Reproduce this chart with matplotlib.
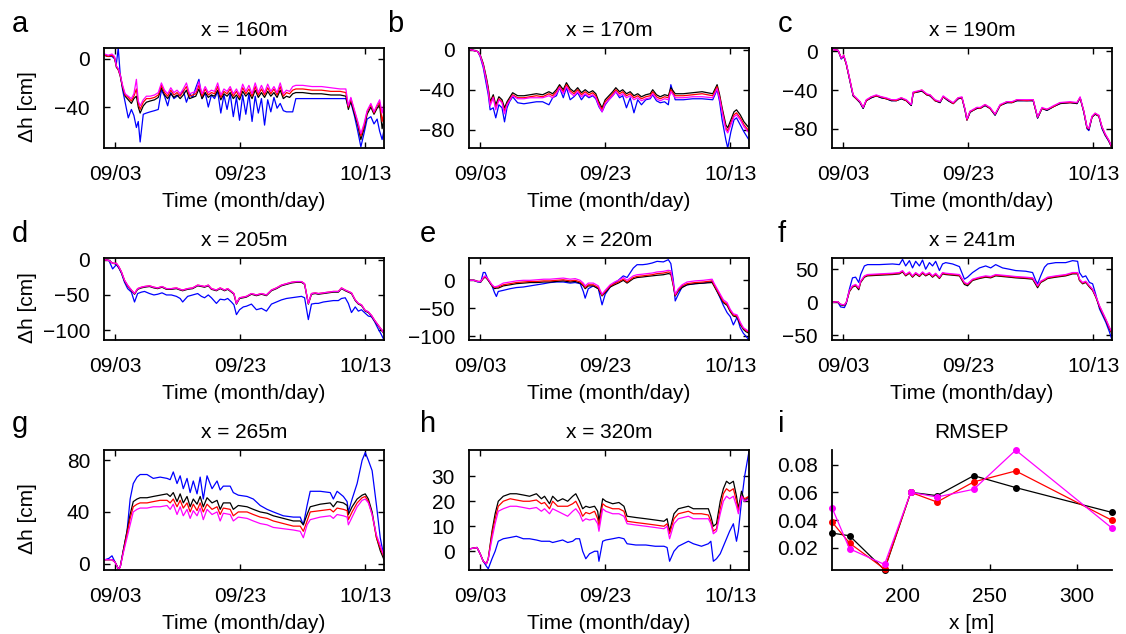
import matplotlib.pyplot as plt

plt.rcParams['font.family'] = ['Liberation Sans', 'DejaVu Sans']
plt.rcParams['font.size'] = 15

# time axis: days since 09/01
tick_days = [2, 22, 42]
tick_labels = ["09/03", "09/23", "10/13"]

# ---- x = 160 m ----
days_a = [0.3, 0.9, 1.5, 1.9, 2.2, 2.5, 2.8, 3.2, 3.6, 4.1, 4.6, 5.0, 5.4, 5.7, 6.0, 6.5, 7.0, 7.6, 8.3, 8.9, 9.4,
          9.9, 10.4, 10.9, 11.4, 11.9, 12.4, 12.9, 13.4, 13.9, 14.4, 14.9, 15.4, 15.9, 16.4, 16.9, 17.4, 17.9, 18.4,
          18.9, 19.4, 19.9, 20.4, 20.9, 21.4, 21.9, 22.4, 22.9, 23.4, 23.9, 24.4, 24.9, 25.4, 25.9, 26.4, 26.9, 27.4,
          27.9, 28.4, 28.9, 29.4, 29.9, 30.4, 30.9, 32.0, 33.5, 35.0, 36.5, 38.0,
          38.9, 39.3, 39.7, 40.3, 40.8, 41.3, 41.8, 42.3, 42.9, 43.4, 43.9, 44.3, 44.7, 45.0]
blk_a = [3, 2, 3, 1, -7, -9, -14, -24, -31, -34, -37, -33, -31, -40, -45, -39, -36, -35, -34, -32, -24,
         -30, -33, -29, -32, -30, -33, -30, -26, -33, -32, -31, -25, -33, -28, -32, -30, -31, -26, -34, -29,
         -31, -28, -33, -30, -34, -27, -31, -28, -33, -26, -32, -28, -32, -27, -31, -28, -32, -26, -33, -31,
         -32, -29, -28, -28, -29, -29, -30, -30,
         -31, -42, -35, -46, -55, -67, -58, -46, -40, -46, -41, -38, -58, -50]
red_a = [3, 2, 3, 1, -6, -9, -13, -23, -30, -32, -35, -31, -25, -37, -42, -36, -33, -33, -32, -30, -22,
         -28, -31, -26, -30, -28, -31, -27, -23, -31, -30, -29, -22, -31, -25, -30, -28, -29, -23, -32, -27,
         -29, -25, -31, -27, -32, -24, -29, -25, -31, -23, -30, -25, -30, -24, -29, -25, -30, -23, -31, -28,
         -29, -26, -25, -25, -26, -26, -27, -27,
         -28, -40, -33, -44, -53, -64, -56, -44, -38, -45, -39, -36, -52, -44]
mag_a = [4, 3, 4, 2, -6, -8, -13, -22, -29, -31, -33, -29, -17, -35, -39, -34, -31, -31, -30, -28, -20,
         -26, -29, -24, -28, -26, -29, -25, -20, -29, -28, -27, -19, -29, -23, -28, -26, -27, -20, -30, -25,
         -27, -23, -29, -25, -30, -21, -27, -22, -29, -20, -28, -22, -28, -21, -27, -23, -28, -20, -29, -26,
         -27, -23, -22, -22, -23, -23, -24, -25,
         -25, -39, -32, -43, -52, -62, -54, -43, -37, -44, -38, -34, -45, -37]
blu_a = [3, 2, 2, 0, -4, 9, -12, -26, -36, -49, -42, -47, -57, -52, -69, -46, -45, -44, -43, -42, -26,
         -31, -39, -28, -33, -31, -30, -26, -36, -29, -32, -24, -17, -33, -28, -40, -30, -33, -27, -45, -30,
         -42, -29, -48, -32, -51, -30, -46, -29, -52, -31, -45, -33, -55, -34, -44, -32, -41, -37, -43, -44,
         -44, -44, -33, -33, -33, -33, -33, -33,
         -33, -40, -36, -48, -60, -73, -62, -50, -48, -54, -50, -60, -67, -59]

# ---- x = 170 m ----
days_b = [0.3, 1.0, 1.6, 2.0, 2.5, 3.0, 3.3, 3.6, 4.1, 4.5, 5.0, 5.5, 5.9, 6.3, 6.7, 7.2, 8.0, 9.0, 10.0, 11.0,
          12.0, 13.0, 13.6, 14.2, 14.7, 15.3, 15.8, 16.4, 17.0, 17.6, 18.2, 18.8, 19.4, 20.0, 20.5, 21.0, 21.5,
          22.0, 22.6, 23.2, 23.7, 24.3, 24.8, 25.4, 26.0, 26.6, 27.2, 27.8, 28.5, 29.2, 29.6, 30.2, 30.8, 31.5,
          32.1, 32.5, 33.2, 34.5, 36.0, 37.5, 39.2, 39.9, 40.3, 40.7, 41.3, 41.6, 42.1, 42.6, 43.0, 43.6, 44.2, 45.0]
blk_b = [0, -1, -2, -5, -14, -28, -38, -52, -45, -55, -47, -50, -58, -52, -48, -43, -46, -46, -45, -44,
         -45, -42, -44, -40, -35, -40, -33, -39, -42, -38, -43, -40, -43, -41, -44, -52, -58, -50, -46, -42,
         -38, -42, -40, -44, -42, -46, -44, -47, -45, -44, -40, -45, -47, -45, -46, -38, -44, -44, -43, -42,
         -44, -35, -45, -58, -75, -78, -70, -62, -60, -65, -72, -78]
red_b = [0, -1, -2, -6, -15, -30, -40, -54, -47, -58, -49, -52, -61, -54, -50, -45, -48, -48, -47, -46,
         -47, -44, -46, -42, -37, -42, -35, -41, -44, -40, -45, -42, -45, -43, -46, -54, -60, -52, -48, -44,
         -40, -44, -42, -46, -44, -48, -46, -49, -47, -46, -42, -47, -49, -47, -48, -40, -46, -46, -45, -44,
         -46, -37, -47, -60, -78, -81, -73, -65, -63, -68, -75, -81]
mag_b = [0, -1, -2, -6, -16, -31, -42, -56, -48, -60, -50, -53, -64, -55, -51, -46, -49, -49, -48, -48,
         -48, -46, -48, -44, -38, -44, -37, -43, -46, -42, -47, -44, -47, -45, -48, -56, -62, -54, -50, -46,
         -42, -46, -44, -48, -46, -50, -48, -51, -49, -48, -44, -49, -51, -49, -50, -42, -48, -48, -47, -47,
         -48, -39, -49, -62, -80, -83, -75, -67, -65, -70, -77, -83]
blu_b = [0, -1, -2, -7, -18, -35, -45, -60, -58, -68, -55, -58, -72, -58, -52, -47, -53, -54, -53, -52,
         -52, -55, -48, -46, -38, -48, -38, -50, -47, -43, -50, -45, -48, -46, -49, -57, -62, -55, -50, -46,
         -42, -48, -46, -58, -48, -63, -50, -55, -50, -49, -45, -51, -53, -52, -55, -35, -50, -50, -49, -49,
         -50, -40, -52, -70, -90, -98, -82, -70, -68, -75, -82, -90]

# ---- x = 190 m ----
days_c = [0.3, 1.2, 1.7, 2.1, 2.5, 3.1, 3.6, 4.1, 4.7, 5.2, 5.7, 6.5, 7.3, 8.1, 8.9, 9.7, 10.5, 11.3, 12.1, 12.9,
          13.2, 14.6, 15.4, 15.9, 16.7, 17.5, 18.0, 18.8, 19.6, 20.4, 21.0, 21.5, 21.8, 22.3, 22.8, 23.4, 23.9,
          24.7, 25.5, 26.3, 27.1, 28.2, 29.0, 29.8, 31.4, 32.4, 32.8, 33.1, 33.8, 34.6, 35.7, 36.7, 38.3, 39.4,
          39.9, 40.5, 41.0, 41.3, 41.8, 42.3, 42.9, 43.4, 43.9, 44.5, 45.0]
blk_c = [2, 1, -7, -5, -13, -31, -46, -49, -53, -59, -51, -48, -46, -48, -49, -51, -51, -49, -51, -56,
         -43, -41, -45, -46, -51, -53, -47, -51, -54, -49, -48, -61, -71, -63, -61, -59, -59, -56, -59, -66,
         -56, -53, -53, -51, -51, -51, -61, -69, -59, -61, -57, -54, -53, -54, -48, -63, -79, -81, -68, -65,
         -67, -79, -86, -93, -100]
red_c = [2, 1, -7, -4, -13, -30, -45, -49, -52, -58, -51, -47, -46, -47, -49, -50, -51, -48, -51, -55,
         -43, -40, -45, -45, -51, -52, -47, -50, -54, -48, -48, -60, -71, -62, -61, -58, -59, -55, -59, -65,
         -56, -52, -53, -50, -51, -50, -61, -68, -59, -60, -57, -53, -53, -53, -48, -62, -79, -80, -68, -64,
         -67, -78, -86, -92, -100]
mag_c = [2, 1, -7, -4, -12, -30, -45, -48, -52, -58, -50, -47, -45, -47, -48, -50, -50, -48, -50, -55,
         -42, -40, -44, -45, -50, -52, -46, -50, -53, -48, -47, -60, -70, -62, -60, -58, -58, -55, -58, -65,
         -55, -52, -52, -50, -50, -50, -60, -68, -58, -60, -56, -53, -52, -53, -47, -62, -78, -80, -67, -64,
         -66, -78, -85, -92, -99]
blu_c = [2, 1, -8, -5, -13, -31, -46, -49, -53, -59, -51, -48, -46, -48, -49, -51, -51, -49, -51, -56,
         -43, -41, -45, -46, -51, -53, -47, -51, -54, -49, -48, -61, -71, -63, -61, -59, -59, -56, -59, -66,
         -56, -53, -53, -51, -51, -51, -61, -69, -59, -61, -57, -54, -53, -54, -48, -63, -80, -82, -68, -65,
         -67, -80, -87, -93, -100]

# ---- x = 205 m ----
days_d = [0.3, 1.0, 1.6, 2.2, 2.6, 3.0, 3.5, 4.0, 4.6, 5.1, 5.6, 6.2, 6.7, 7.5, 8.2, 8.8, 9.5, 10.2, 11.0, 11.8,
          12.4, 12.8, 13.6, 14.4, 15.2, 15.8, 16.3, 16.9, 17.4, 18.2, 18.8, 19.5, 20.0, 20.6, 21.0, 21.4, 21.9,
          22.5, 23.0, 23.8, 24.6, 25.4, 26.2, 27.0, 27.8, 28.6, 29.4, 30.2, 31.0, 31.8, 32.3, 32.9, 33.4, 34.0,
          34.5, 35.3, 36.1, 36.9, 37.7, 38.2, 38.8, 39.3, 39.8, 40.4, 40.9, 41.4, 42.0, 42.5, 43.0, 43.5, 44.0,
          44.5, 45.0]
mag_d = [0, -1, -5, -5, -10, -17, -29, -36, -43, -48, -41, -39, -38, -37, -39, -40, -38, -41, -41, -40,
         -42, -43, -41, -40, -36, -37, -38, -36, -41, -43, -40, -43, -41, -45, -48, -62, -54, -53, -52, -48,
         -50, -48, -50, -43, -40, -36, -34, -32, -31, -31, -34, -62, -48, -47, -48, -47, -46, -45, -45, -40,
         -43, -45, -47, -57, -62, -64, -72, -74, -79, -86, -92, -98, -104]
blk_d = [0, -1, -5, -6, -11, -18, -30, -37, -44, -49, -42, -40, -39, -38, -40, -41, -39, -42, -42, -41,
         -43, -44, -42, -41, -37, -38, -39, -37, -42, -44, -41, -44, -42, -46, -49, -63, -55, -54, -53, -49,
         -51, -49, -51, -44, -41, -37, -35, -33, -32, -32, -35, -63, -49, -48, -49, -48, -47, -46, -46, -41,
         -44, -46, -48, -58, -63, -65, -73, -75, -80, -87, -93, -99, -105]
red_d = [0, -1, -5, -5, -10, -17, -29, -37, -43, -48, -41, -39, -38, -37, -39, -40, -38, -41, -41, -40,
         -42, -43, -41, -40, -36, -37, -38, -36, -41, -43, -40, -43, -41, -45, -48, -62, -54, -53, -52, -48,
         -50, -48, -50, -43, -40, -36, -34, -32, -31, -31, -34, -62, -48, -47, -48, -47, -46, -45, -45, -40,
         -43, -45, -47, -57, -62, -64, -72, -74, -79, -86, -92, -98, -104]
blu_d = [0, -1, -13, -7, -12, -19, -32, -41, -46, -60, -48, -46, -45, -48, -50, -49, -47, -50, -50, -52,
         -55, -60, -52, -50, -48, -52, -54, -50, -54, -62, -56, -57, -55, -60, -64, -78, -71, -67, -66, -63,
         -71, -69, -73, -63, -60, -57, -55, -54, -53, -52, -54, -85, -63, -62, -62, -60, -59, -58, -58, -55,
         -54, -62, -75, -67, -73, -71, -76, -80, -81, -88, -97, -105, -114]

# ---- x = 220 m ----
days_e = [0.3, 1.0, 1.6, 2.1, 2.5, 2.8, 3.3, 3.9, 4.3, 4.6, 4.9, 5.7, 6.8, 7.8, 8.9, 10.0, 11.1, 12.2, 13.2, 14.2,
          15.3, 16.4, 17.2, 18.0, 18.5, 18.8, 19.3, 20.1, 20.9, 21.5, 22.0, 22.8, 23.5, 24.1, 24.9, 25.5, 26.5,
          27.1, 28.0, 28.7, 29.5, 30.3, 31.3, 32.1, 32.5, 32.9, 33.2, 33.7, 34.3, 35.1, 36.4, 37.7, 39.1, 39.4,
          39.9, 40.4, 40.9, 41.5, 42.0, 42.5, 43.1, 43.6, 44.1, 44.5, 45.0]
blk_e = [0, 0, -2, -3, 3, 6, 0, -10, -15, -14, -14, -10, -8, -6, -5, -4, -4, -3, -3, -2,
         -1, -3, -2, -5, -10, -15, -10, -10, -15, -28, -22, -12, -8, -5, 0, -5, 3, 5, 6, 7,
         8, 9, 10, 12, 11, -10, -28, -19, -13, -8, -6, -5, -4, -10, -20, -30, -40, -45, -56, -64,
         -66, -79, -88, -92, -95]
red_e = [0, 0, -2, -2, 4, 7, 1, -9, -13, -12, -12, -8, -6, -4, -3, -2, -2, -1, -1, 0,
         1, -1, 0, -3, -8, -13, -8, -8, -13, -27, -20, -10, -6, -3, 2, -3, 5, 7, 8, 9,
         10, 12, 13, 15, 14, -8, -27, -17, -10, -6, -4, -3, -1, -8, -18, -28, -38, -43, -54, -62,
         -64, -77, -86, -90, -93]
mag_e = [0, 0, -2, -2, 5, 8, 2, -8, -12, -11, -10, -5, -3, -1, 0, 0, 1, 2, 2, 3,
         4, 2, 3, 0, -5, -10, -5, -5, -10, -25, -18, -8, -3, 0, 5, 0, 8, 10, 11, 12,
         13, 15, 16, 18, 17, -5, -25, -15, -8, -3, -1, 0, 2, -5, -15, -25, -35, -40, -52, -60,
         -62, -75, -85, -88, -92]
blu_e = [0, 0, -3, -3, 14, 14, 0, -10, -22, -29, -20, -18, -15, -13, -12, -10, -8, -6, -4, -3,
         -3, -5, -4, -6, -20, -32, -15, -10, -15, -44, -25, -12, -5, 0, 8, 5, 22, 28, 28, 29,
         31, 34, 33, 37, 30, 0, -37, -25, -12, -8, -6, -5, -2, -8, -20, -32, -45, -58, -65, -80,
         -66, -85, -95, -100, -107]

# ---- x = 241 m ----
days_f = [0.3, 1.1, 1.6, 2.2, 2.5, 3.0, 3.5, 4.0, 4.5, 4.8, 5.4, 5.9, 7.8, 9.9, 11.0, 11.5, 12.0, 12.6, 13.1, 13.6,
          14.2, 14.7, 15.2, 15.8, 16.3, 16.8, 17.4, 17.9, 18.4, 19.5, 20.6, 21.4, 21.9, 22.7, 23.8, 24.8, 25.6,
          26.4, 27.5, 28.6, 29.6, 31.2, 32.3, 32.8, 33.1, 33.6, 34.2, 34.7, 36.0, 37.6, 38.7, 39.5, 39.8, 40.3,
          40.8, 41.4, 41.9, 42.4, 43.0, 43.5, 44.0, 44.6, 45.0]
blk_f = [0, 1, -4, -5, -1, 16, 23, 25, 19, 30, 38, 40, 41, 42, 43, 46, 40, 44, 38, 43,
         39, 44, 40, 43, 38, 42, 36, 43, 42, 41, 40, 27, 25, 33, 36, 38, 37, 40, 39, 38,
         37, 36, 35, 27, 22, 30, 33, 36, 38, 40, 43, 43, 33, 28, 30, 23, 18, 8, -7, -17,
         -27, -40, -48]
red_f = [0, 1, -3, -4, 0, 17, 24, 26, 21, 31, 39, 41, 42, 43, 44, 47, 41, 45, 39, 44,
         40, 45, 41, 44, 39, 43, 37, 44, 43, 42, 41, 29, 27, 34, 37, 39, 38, 41, 40, 39,
         38, 37, 36, 29, 24, 31, 34, 37, 39, 41, 44, 44, 34, 29, 31, 24, 19, 9, -6, -16,
         -26, -39, -46]
mag_f = [0, 1, -3, -4, 0, 18, 25, 27, 22, 32, 40, 42, 43, 44, 45, 48, 42, 46, 40, 45,
         41, 46, 42, 45, 40, 44, 38, 45, 44, 43, 42, 30, 28, 35, 38, 40, 39, 42, 41, 40,
         39, 38, 37, 30, 25, 32, 35, 38, 40, 42, 45, 45, 35, 30, 32, 25, 20, 10, -5, -15,
         -25, -38, -45]
blu_f = [0, 1, -7, -8, -2, 20, 37, 38, 30, 42, 55, 57, 57, 58, 57, 65, 55, 63, 52, 62,
         55, 64, 50, 60, 55, 62, 48, 58, 60, 58, 54, 35, 38, 45, 52, 55, 52, 57, 52, 50,
         48, 47, 45, 33, 28, 40, 53, 58, 60, 60, 63, 62, 45, 38, 40, 30, 28, 12, -10, -20,
         -30, -45, -57]

# ---- x = 265 m ----
days_g = [0.4, 1.0, 1.5, 2.0, 2.5, 2.8, 3.3, 3.9, 4.4, 4.9, 5.5, 6.0, 7.1, 8.1, 9.2, 10.3, 10.8, 11.3, 11.9, 12.4,
          12.9, 13.5, 14.0, 14.5, 15.1, 15.6, 16.1, 16.7, 17.5, 18.3, 18.8, 19.3, 20.4, 20.9, 21.7, 23.1, 24.1,
          25.2, 26.3, 27.3, 28.9, 30.5, 31.6, 32.1, 32.7, 33.2, 34.8, 36.4, 36.9, 37.5, 38.5, 39.1, 39.3, 39.9,
          40.7, 41.5, 42.0, 42.5, 43.1, 43.8, 44.4, 45.0]
blk_g = [3, 3, 3, 1, -4, -3, 10, 25, 38, 48, 50, 51, 51, 52, 53, 54, 52, 55, 48, 54,
         47, 52, 44, 50, 46, 52, 44, 51, 47, 49, 42, 47, 47, 42, 45, 44, 42, 40, 39, 37,
         35, 33, 33, 30, 38, 44, 46, 47, 44, 48, 47, 45, 38, 44, 50, 53, 54, 50, 40, 20,
         10, 3]
red_g = [3, 3, 3, 1, -4, -3, 9, 23, 35, 44, 46, 47, 47, 48, 49, 49, 47, 50, 44, 49,
         43, 47, 40, 46, 41, 47, 40, 46, 42, 44, 38, 43, 42, 37, 40, 40, 38, 36, 35, 33,
         31, 29, 29, 25, 33, 40, 41, 42, 40, 43, 42, 41, 34, 40, 47, 51, 52, 48, 38, 20,
         12, 5]
mag_g = [3, 3, 3, 1, -4, -3, 8, 20, 30, 40, 42, 43, 43, 44, 44, 45, 42, 46, 38, 44,
         37, 42, 35, 41, 37, 43, 34, 42, 38, 40, 33, 39, 38, 33, 36, 35, 33, 31, 30, 28,
         27, 26, 25, 20, 30, 34, 36, 37, 35, 38, 37, 36, 30, 36, 44, 49, 50, 47, 38, 22,
         14, 6]
blu_g = [3, 4, 6, 1, -4, -3, 10, 25, 50, 62, 67, 69, 69, 66, 67, 66, 65, 71, 62, 68,
         58, 66, 55, 64, 54, 67, 50, 68, 58, 64, 57, 60, 60, 55, 53, 52, 50, 45, 42, 40,
         37, 36, 36, 30, 45, 56, 56, 55, 50, 56, 52, 48, 40, 50, 62, 80, 86, 80, 72, 45,
         20, 5]

# ---- x = 320 m ----
days_h = [0.4, 1.5, 2.0, 2.5, 3.0, 3.3, 3.9, 4.4, 4.9, 5.7, 6.8, 7.8, 8.9, 9.9, 11.0, 11.8, 12.3, 13.1, 13.6, 14.4,
          15.2, 16.0, 16.8, 17.3, 17.9, 18.4, 18.9, 19.5, 20.3, 20.8, 21.0, 21.6, 22.1, 23.2, 24.2, 25.0, 25.5,
          26.9, 28.5, 30.0, 31.4, 31.9, 32.3, 33.0, 33.7, 35.3, 36.1, 37.4, 38.5, 38.9, 39.3, 39.8, 40.4, 40.9,
          41.4, 41.9, 42.5, 43.0, 43.3, 43.8, 44.3, 45.0]
blk_h = [1, 1.5, -1, -4, -5, -3, 8, 15, 20, 22, 23, 23, 22.5, 22, 23, 21, 22, 19, 22, 20,
         21, 20, 22, 23, 20, 17, 18, 17.5, 18, 16, 12, 21, 20, 19, 19.5, 18, 14, 13.5, 13, 12.5,
         12, 13, 8, 15, 17, 18, 17, 17, 17, 14, 10, 11, 20, 25, 28, 27, 28, 22, 17, 24,
         20, 22]
red_h = [1, 1.5, -1, -4, -5, -3, 7, 13, 18, 20, 21, 20.5, 20, 20, 20.5, 19, 19.5, 17, 20, 18,
         18, 18, 19, 20, 17, 14, 15.5, 15, 16, 13, 10, 19, 18, 17, 17, 16, 12, 11.5, 11, 10.5,
         10, 11, 7, 13, 15, 16, 15, 15, 14.5, 12, 8, 9, 17, 23, 25, 24, 25, 20, 16, 22,
         21, 22]
mag_h = [1, 1.5, -1, -4, -5, -3, 5, 11, 16, 17, 18, 18, 17.5, 17, 17.5, 16, 17, 15, 17, 16,
         15, 14, 16, 17, 15, 12, 13, 12.5, 13, 11, 8, 17, 16, 15, 15, 14, 11, 10.5, 10, 9.5,
         9, 10, 5, 11, 13, 14, 13, 13, 13, 11, 7, 8, 15, 20, 22, 21, 22, 18, 15, 22,
         20, 21]
blu_h = [1, 1.5, -1, -4, -6, -7, -3, 0, 4, 5, 5.5, 6, 5, 5, 4.5, 4, 4, 4, 3.5, 4,
         4.5, 3.5, 4, 5, 5, 0, -3, -1, 0, 0, -4, 4, 4.5, 5, 5.5, 5, 3, 2.5, 2.5, 2,
         2, 1.5, -4, 0, 2, 4, 3, 2, 3, 4, -4, -3, -1, 2, 5, 8, 11, 4, 8, 20,
         30, 40]

# ---- RMSEP vs position ----
x_pos = [160, 170, 190, 205, 220, 241, 265, 320]
rmsep_blk = [0.0306, 0.0287, 0.0041, 0.0600, 0.0576, 0.0720, 0.0634, 0.0455]
rmsep_red = [0.0386, 0.0234, 0.0048, 0.0600, 0.0530, 0.0675, 0.0754, 0.0398]
rmsep_mag = [0.0489, 0.0193, 0.0080, 0.0600, 0.0566, 0.0622, 0.0904, 0.0342]

W, H = 1126, 634
fig = plt.figure(figsize=(W / 100, H / 100), dpi=100)


def box(l, t, r, b):
    return [l / W, 1 - b / H, (r - l) / W, (b - t) / H]


cols = [(104, 384), (469, 749), (832, 1112)]
rows = [(48, 148), (258, 340), (450, 570)]

panels = [
    ("a", "x = 160m", days_a, blk_a, red_a, mag_a, blu_a, (-74, 9), [-40, 0]),
    ("b", "x = 170m", days_b, blk_b, red_b, mag_b, blu_b, (-98, 1.5), [-80, -40, 0]),
    ("c", "x = 190m", days_c, blk_c, red_c, mag_c, blu_c, (-100, 3.5), [-80, -40, 0]),
    ("d", "x = 205m", days_d, blk_d, red_d, mag_d, blu_d, (-114, 2.5), [-100, -50, 0]),
    ("e", "x = 220m", days_e, blk_e, red_e, mag_e, blu_e, (-107, 40), [-100, -50, 0]),
    ("f", "x = 241m", days_f, blk_f, red_f, mag_f, blu_f, (-57, 67), [-50, 0, 50]),
    ("g", "x = 265m", days_g, blk_g, red_g, mag_g, blu_g, (-5, 88), [0, 40, 80]),
    ("h", "x = 320m", days_h, blk_h, red_h, mag_h, blu_h, (-7.5, 40.5), [0, 10, 20, 30]),
]

letter_xy = {"a": (12, 32), "b": (387, 32), "c": (778, 32),
             "d": (12, 242), "e": (420, 242), "f": (778, 242),
             "g": (12, 432), "h": (420, 432), "i": (778, 432)}

lw = 0.9


def style_ticks(ax, **kw):
    ax.tick_params(direction="in", length=4, width=1, **kw)
    ax.tick_params(axis="x", pad=12)
    ax.tick_params(axis="y", pad=10)


for k, (tag, title, t, blk, red, mag, blu, ylim, yticks) in enumerate(panels):
    r, c = divmod(k, 3)
    (l, rr), (tp, bt) = cols[c], rows[r]
    ax = fig.add_axes(box(l, tp, rr, bt))
    ax.plot(t, blu, color="blue", lw=lw)
    ax.plot(t, blk, color="black", lw=lw)
    ax.plot(t, red, color="red", lw=lw)
    ax.plot(t, mag, color="magenta", lw=lw)
    ax.set_xlim(0.22, 45.0)
    ax.set_ylim(*ylim)
    ax.set_xticks(tick_days)
    ax.set_xticklabels(tick_labels)
    ax.set_yticks(yticks)
    style_ticks(ax, top=True, right=True)
    for s in ax.spines.values():
        s.set_linewidth(1.3)
    ax.set_title(title, pad=9, fontsize=15)
    ax.set_xlabel("Time (month/day)", labelpad=6)
    if c == 0:
        ax.set_ylabel("Δh [cm]")
        ax.yaxis.set_label_coords(-0.24, 0.5 - 9 / (bt - tp))

# RMSEP panel
ax = fig.add_axes(box(832, 450, 1112, 570))
ax.plot(x_pos, rmsep_blk, "-o", color="black", lw=lw, ms=4, clip_on=False)
ax.plot(x_pos, rmsep_red, "-o", color="red", lw=lw, ms=4, clip_on=False)
ax.plot(x_pos, rmsep_mag, "-o", color="magenta", lw=lw, ms=4, clip_on=False)
ax.set_xlim(160, 320)
ax.set_ylim(0.004, 0.0905)
ax.set_xticks([200, 250, 300])
ax.set_yticks([0.02, 0.04, 0.06, 0.08])
ax.spines["top"].set_visible(False)
ax.spines["right"].set_visible(False)
for s in ("left", "bottom"):
    ax.spines[s].set_linewidth(1.3)
style_ticks(ax)
ax.set_title("RMSEP", pad=9, fontsize=15)
ax.set_xlabel("x [m]", labelpad=6)

for tag, (x, y) in letter_xy.items():
    fig.text(x / W, 1 - y / H, tag, fontsize=21, ha="left", va="baseline")

fig.savefig("out.png", dpi=100)
